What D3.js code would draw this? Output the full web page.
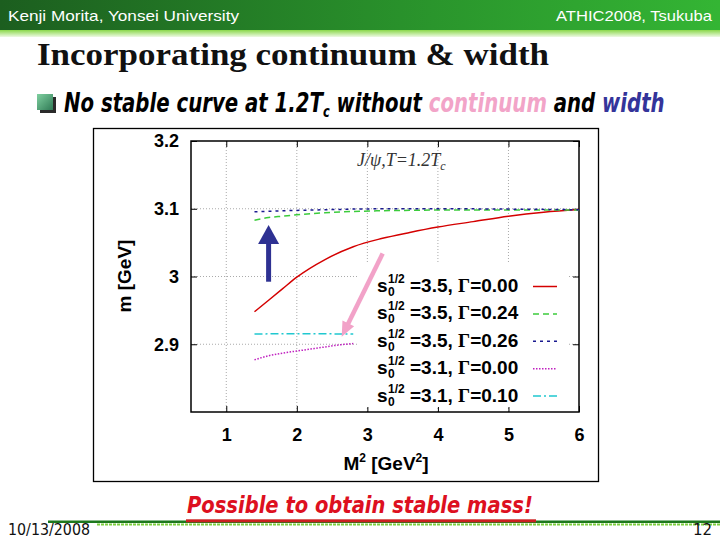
<!DOCTYPE html>
<html>
<head>
<meta charset="utf-8">
<script src="https://cdn.jsdelivr.net/npm/d3@7"></script>
<style>
body { margin: 0; background: #fff; }
</style>
</head>
<body>
<div id="slide"></div>
<script>
// curves: M^2 [GeV^2] -> m [GeV]
const redM2 = [1.4, 1.6, 1.8, 2.0, 2.4, 2.8, 3.2, 3.6, 4.0, 4.5, 5.0, 5.5, 6.0];
const redMass = [2.948, 2.965, 2.982, 2.999, 3.025, 3.044, 3.056, 3.065, 3.073, 3.081, 3.089, 3.095, 3.099];
const greenM2 = [1.4, 1.6, 1.8, 2.0, 2.4, 2.8, 3.2, 4.0, 5.0, 6.0];
const greenMass = [3.083, 3.087, 3.089, 3.091, 3.094, 3.096, 3.097, 3.098, 3.098, 3.098];
const blueM2 = [1.4, 1.8, 2.2, 2.6, 3.0, 4.0, 5.0, 6.0];
const blueMass = [3.0955, 3.097, 3.098, 3.099, 3.0998, 3.1, 3.0995, 3.0985];
const magentaM2 = [1.4, 1.6, 1.8, 2.0, 2.2, 2.4, 2.6, 2.8];
const magentaMass = [2.877, 2.883, 2.887, 2.890, 2.893, 2.896, 2.899, 2.901];
const cyanM2 = [1.4, 1.8, 2.2, 2.8];
const cyanMass = [2.915, 2.9155, 2.9155, 2.915];

const seriesS0 = ["3.5", "3.5", "3.5", "3.1", "3.1"];
const seriesGamma = ["0.00", "0.24", "0.26", "0.00", "0.10"];

const xTicks = [1, 2, 3, 4, 5, 6];
const yTicks = [2.9, 3.0, 3.1, 3.2];

// annotation arrows (data coords): [fromM2, fromMass, toM2, toMass]
const upArrow = [1.6, 2.9923, 1.6, 3.076];
const downArrow = [3.217, 3.034, 2.636, 2.911];

const series = [
    {M2: redM2, mass: redMass, color: "#d40000", dash: null},
    {M2: greenM2, mass: greenMass, color: "#3ccc3c", dash: "6,4"},
    {M2: blueM2, mass: blueMass, color: "#1a1a90", dash: "3,4"},
    {M2: magentaM2, mass: magentaMass, color: "#c020c0", dash: "1.5,1.5"},
    {M2: cyanM2, mass: cyanMass, color: "#20c8d0", dash: "8,3,2,3"}
];

var svg = d3.select("#slide")
    .append("svg")
    .attr("width", 720)
    .attr("height", 540)
    .style("font-family", "'Liberation Sans', Arial, sans-serif");

var defs = svg.append("defs");
var hg = defs.append("linearGradient").attr("id", "hdr");
hg.append("stop").attr("offset", 0).attr("stop-color", "#1c5e1f");
hg.append("stop").attr("offset", 0.6).attr("stop-color", "#2a952c");
hg.append("stop").attr("offset", 1).attr("stop-color", "#34b534");
var sg = defs.append("linearGradient").attr("id", "stripe")
    .attr("x1", 0).attr("x2", 0).attr("y1", 0).attr("y2", 1);
sg.append("stop").attr("offset", 0).attr("stop-color", "#8ad84a");
sg.append("stop").attr("offset", 1).attr("stop-color", "#eef9e4");
var bg = defs.append("linearGradient").attr("id", "bul")
    .attr("x1", 0).attr("x2", 1).attr("y1", 0).attr("y2", 1);
bg.append("stop").attr("offset", 0).attr("stop-color", "#7fd0a0");
bg.append("stop").attr("offset", 1).attr("stop-color", "#2f7a55");

// header bar
svg.append("rect").attr("x", 0).attr("y", 0).attr("width", 720).attr("height", 30).attr("fill", "url(#hdr)");
svg.append("rect").attr("x", 0).attr("y", 30).attr("width", 720).attr("height", 7).attr("fill", "url(#stripe)");
svg.append("text").attr("x", 8).attr("y", 21)
    .attr("textLength", 231).attr("lengthAdjust", "spacingAndGlyphs")
    .style("font-size", "15px").style("fill", "#fff")
    .text("Kenji Morita, Yonsei University");
svg.append("text").attr("x", 556).attr("y", 21)
    .attr("textLength", 156).attr("lengthAdjust", "spacingAndGlyphs")
    .style("font-size", "15px").style("fill", "#fff")
    .text("ATHIC2008, Tsukuba");

// title
svg.append("text").attr("x", 37).attr("y", 65)
    .attr("textLength", 512).attr("lengthAdjust", "spacingAndGlyphs")
    .style("font-family", "'Liberation Serif', 'Times New Roman', serif")
    .style("font-weight", "bold").style("font-size", "32px").style("fill", "#111")
    .text("Incorporating continuum & width");

// bullet
svg.append("rect").attr("x", 40).attr("y", 97).attr("width", 16).attr("height", 16).attr("fill", "#2a2a2a");
svg.append("rect").attr("x", 37).attr("y", 94).attr("width", 16).attr("height", 16).attr("fill", "url(#bul)");

function squeeze(sel, x0, width) {
    var w = sel.node().getBBox().width;
    sel.attr("x", 0).attr("transform", "translate(" + x0 + ",0) scale(" + (width / w) + ",1)");
}

var hand = "'DejaVu Sans', Verdana, sans-serif";
var bullet = svg.append("text").attr("y", 112)
    .style("font-family", hand).style("font-style", "italic").style("font-weight", "bold")
    .style("font-size", "26px").style("fill", "#000");
bullet.append("tspan").text("No stable curve at 1.2T");
bullet.append("tspan").attr("dy", 5).style("font-size", "15px").text("c");
bullet.append("tspan").attr("dy", -5).text(" without ");
bullet.append("tspan").style("fill", "#f2a4c8").text("continuum");
bullet.append("tspan").text(" and ");
bullet.append("tspan").style("fill", "#34349a").text("width");
squeeze(bullet, 64, 601);

// chart frame
svg.append("rect").attr("x", 93.5).attr("y", 128.5).attr("width", 505).attr("height", 353)
    .attr("fill", "#fff").attr("stroke", "#000").attr("stroke-width", 1.3);

// scales
var x = d3.scaleLinear().domain([0.5, 6]).range([191, 579]);
var y = d3.scaleLinear().domain([2.8, 3.2]).range([412, 141]);

// grid
var grid = svg.append("g").attr("stroke", "#aaa").attr("stroke-width", 1).attr("stroke-dasharray", "1,2");
grid.selectAll(".gx").data(xTicks.filter(d => d < 6)).join("line")
    .attr("x1", d => x(d)).attr("x2", d => x(d))
    .attr("y1", y.range()[0]).attr("y2", y.range()[1]);
grid.selectAll(".gy").data(yTicks.filter(d => d < 3.2)).join("line")
    .attr("y1", d => y(d)).attr("y2", d => y(d))
    .attr("x1", x.range()[0]).attr("x2", x.range()[1]);

// axes (gnuplot style: inward ticks on all sides)
var fmt = d => String(+d.toFixed(1));
svg.append("g").attr("transform", "translate(0," + y(2.8) + ")")
    .call(d3.axisBottom(x).tickValues(xTicks).tickSizeInner(-6).tickSizeOuter(0).tickPadding(16).tickFormat(fmt));
svg.append("g").attr("transform", "translate(" + x(0.5) + ",0)")
    .call(d3.axisLeft(y).tickValues(yTicks).tickSizeInner(-6).tickSizeOuter(0).tickPadding(12).tickFormat(fmt));
svg.append("g").attr("transform", "translate(0," + y(3.2) + ")")
    .call(d3.axisTop(x).tickValues(xTicks).tickSizeInner(-6).tickSizeOuter(0).tickFormat(""));
svg.append("g").attr("transform", "translate(" + x(6) + ",0)")
    .call(d3.axisRight(y).tickValues(yTicks).tickSizeInner(-6).tickSizeOuter(0).tickFormat(""));
svg.selectAll(".domain").remove();
svg.selectAll(".tick line").attr("stroke", "#000");
svg.selectAll(".tick text")
    .style("font-family", "'Liberation Sans', Arial, sans-serif")
    .style("font-size", "18px").style("font-weight", "bold").style("fill", "#000");

svg.append("rect").attr("x", x(0.5)).attr("y", y(3.2))
    .attr("width", x(6) - x(0.5)).attr("height", y(2.8) - y(3.2))
    .attr("fill", "none").attr("stroke", "#000").attr("stroke-width", 1.5);

// axis titles
var xt = svg.append("text").attr("x", 386).attr("y", 470).attr("text-anchor", "middle")
    .style("font-size", "19px").style("font-weight", "bold");
xt.append("tspan").text("M");
xt.append("tspan").attr("dy", -8).style("font-size", "12px").text("2");
xt.append("tspan").attr("dy", 8).text(" [GeV");
xt.append("tspan").attr("dy", -8).style("font-size", "12px").text("2");
xt.append("tspan").attr("dy", 8).text("]");

svg.append("text").attr("transform", "translate(131,276) rotate(-90)").attr("text-anchor", "middle")
    .style("font-size", "19px").style("font-weight", "bold").text("m [GeV]");

// plot label
var lab = svg.append("text").attr("x", 357).attr("y", 166)
    .style("font-family", "'Liberation Serif', 'Times New Roman', serif")
    .style("font-style", "italic").style("font-size", "18px").style("fill", "#333");
lab.append("tspan").text("J/ψ,T=1.2T");
lab.append("tspan").attr("dy", 4).style("font-size", "12px").text("c");

// curves
var line = d3.line().x(d => x(d[0])).y(d => y(d[1])).curve(d3.curveMonotoneX);
series.forEach(function(s) {
    svg.append("path")
        .datum(s.M2.map((m, i) => [m, s.mass[i]]))
        .attr("d", line)
        .attr("fill", "none")
        .attr("stroke", s.color)
        .attr("stroke-width", 1.5)
        .attr("stroke-dasharray", s.dash);
});

// legend
svg.append("rect").attr("x", 357).attr("y", 263).attr("width", 210).attr("height", 144).attr("fill", "#fff");
var legend = svg.append("g");
series.forEach(function(s, i) {
    var b = 292 + i * 27.4;
    var t = legend.append("text").attr("x", 377).attr("y", b)
        .style("font-weight", "bold").style("font-size", "19px").style("fill", "#000");
    t.append("tspan").text("s");
    t.append("tspan").attr("x", 388).attr("dy", -9).style("font-size", "12px").text("1/2");
    t.append("tspan").attr("x", 388).attr("dy", 13).style("font-size", "12px").text("0");
    t.append("tspan").attr("x", 410).attr("dy", -4).text("=" + seriesS0[i] + ", ");
    t.append("tspan").style("font-family", "'Liberation Serif', serif").text("Γ");
    t.append("tspan").text("=" + seriesGamma[i]);
    legend.append("line").attr("x1", 533).attr("x2", 557).attr("y1", b - 5.5).attr("y2", b - 5.5)
        .attr("stroke", s.color).attr("stroke-width", 1.5).attr("stroke-dasharray", s.dash);
});

// arrows
function arrow(a, color, sw, headLen, headW) {
    var x0 = x(a[0]), y0 = y(a[1]), x1 = x(a[2]), y1 = y(a[3]);
    var L = Math.hypot(x1 - x0, y1 - y0), ux = (x1 - x0) / L, uy = (y1 - y0) / L;
    var bx = x1 - ux * headLen, by = y1 - uy * headLen;
    svg.append("line").attr("x1", x0).attr("y1", y0).attr("x2", bx + ux).attr("y2", by + uy)
        .attr("stroke", color).attr("stroke-width", sw);
    svg.append("polygon")
        .attr("points", [[x1, y1], [bx - uy * headW / 2, by + ux * headW / 2], [bx + uy * headW / 2, by - ux * headW / 2]].join(" "))
        .attr("fill", color);
}
arrow(upArrow, "#2e3192", 5, 19, 21);
arrow(downArrow, "#f2a2c8", 4.5, 15, 13);

// conclusion line
var concl = svg.append("text").attr("y", 513)
    .style("font-family", hand).style("font-style", "italic").style("font-weight", "bold")
    .style("font-size", "23px").style("fill", "#dd1020")
    .text("Possible to obtain stable mass!");
squeeze(concl, 187, 346);

// footer
svg.append("line").attr("x1", 48).attr("x2", 720).attr("y1", 521.8).attr("y2", 521.8)
    .attr("stroke", "#1d781d").attr("stroke-width", 2.6);
svg.append("line").attr("x1", 97).attr("x2", 720).attr("y1", 524.5).attr("y2", 524.5)
    .attr("stroke", "#7fd040").attr("stroke-width", 2.2).attr("stroke-dasharray", "3,1");
svg.append("rect").attr("x", 186).attr("y", 519.3).attr("width", 350).attr("height", 3).attr("fill", "#cc2020");
svg.append("text").attr("x", 8).attr("y", 535)
    .attr("textLength", 82).attr("lengthAdjust", "spacingAndGlyphs")
    .style("font-family", "'DejaVu Sans', Verdana, sans-serif").style("font-size", "15px").style("fill", "#111")
    .text("10/13/2008");
svg.append("text").attr("x", 712).attr("y", 535).attr("text-anchor", "end")
    .style("font-family", "'DejaVu Sans', Verdana, sans-serif").style("font-size", "15px").style("fill", "#111")
    .text("12");
</script>
</body>
</html>
